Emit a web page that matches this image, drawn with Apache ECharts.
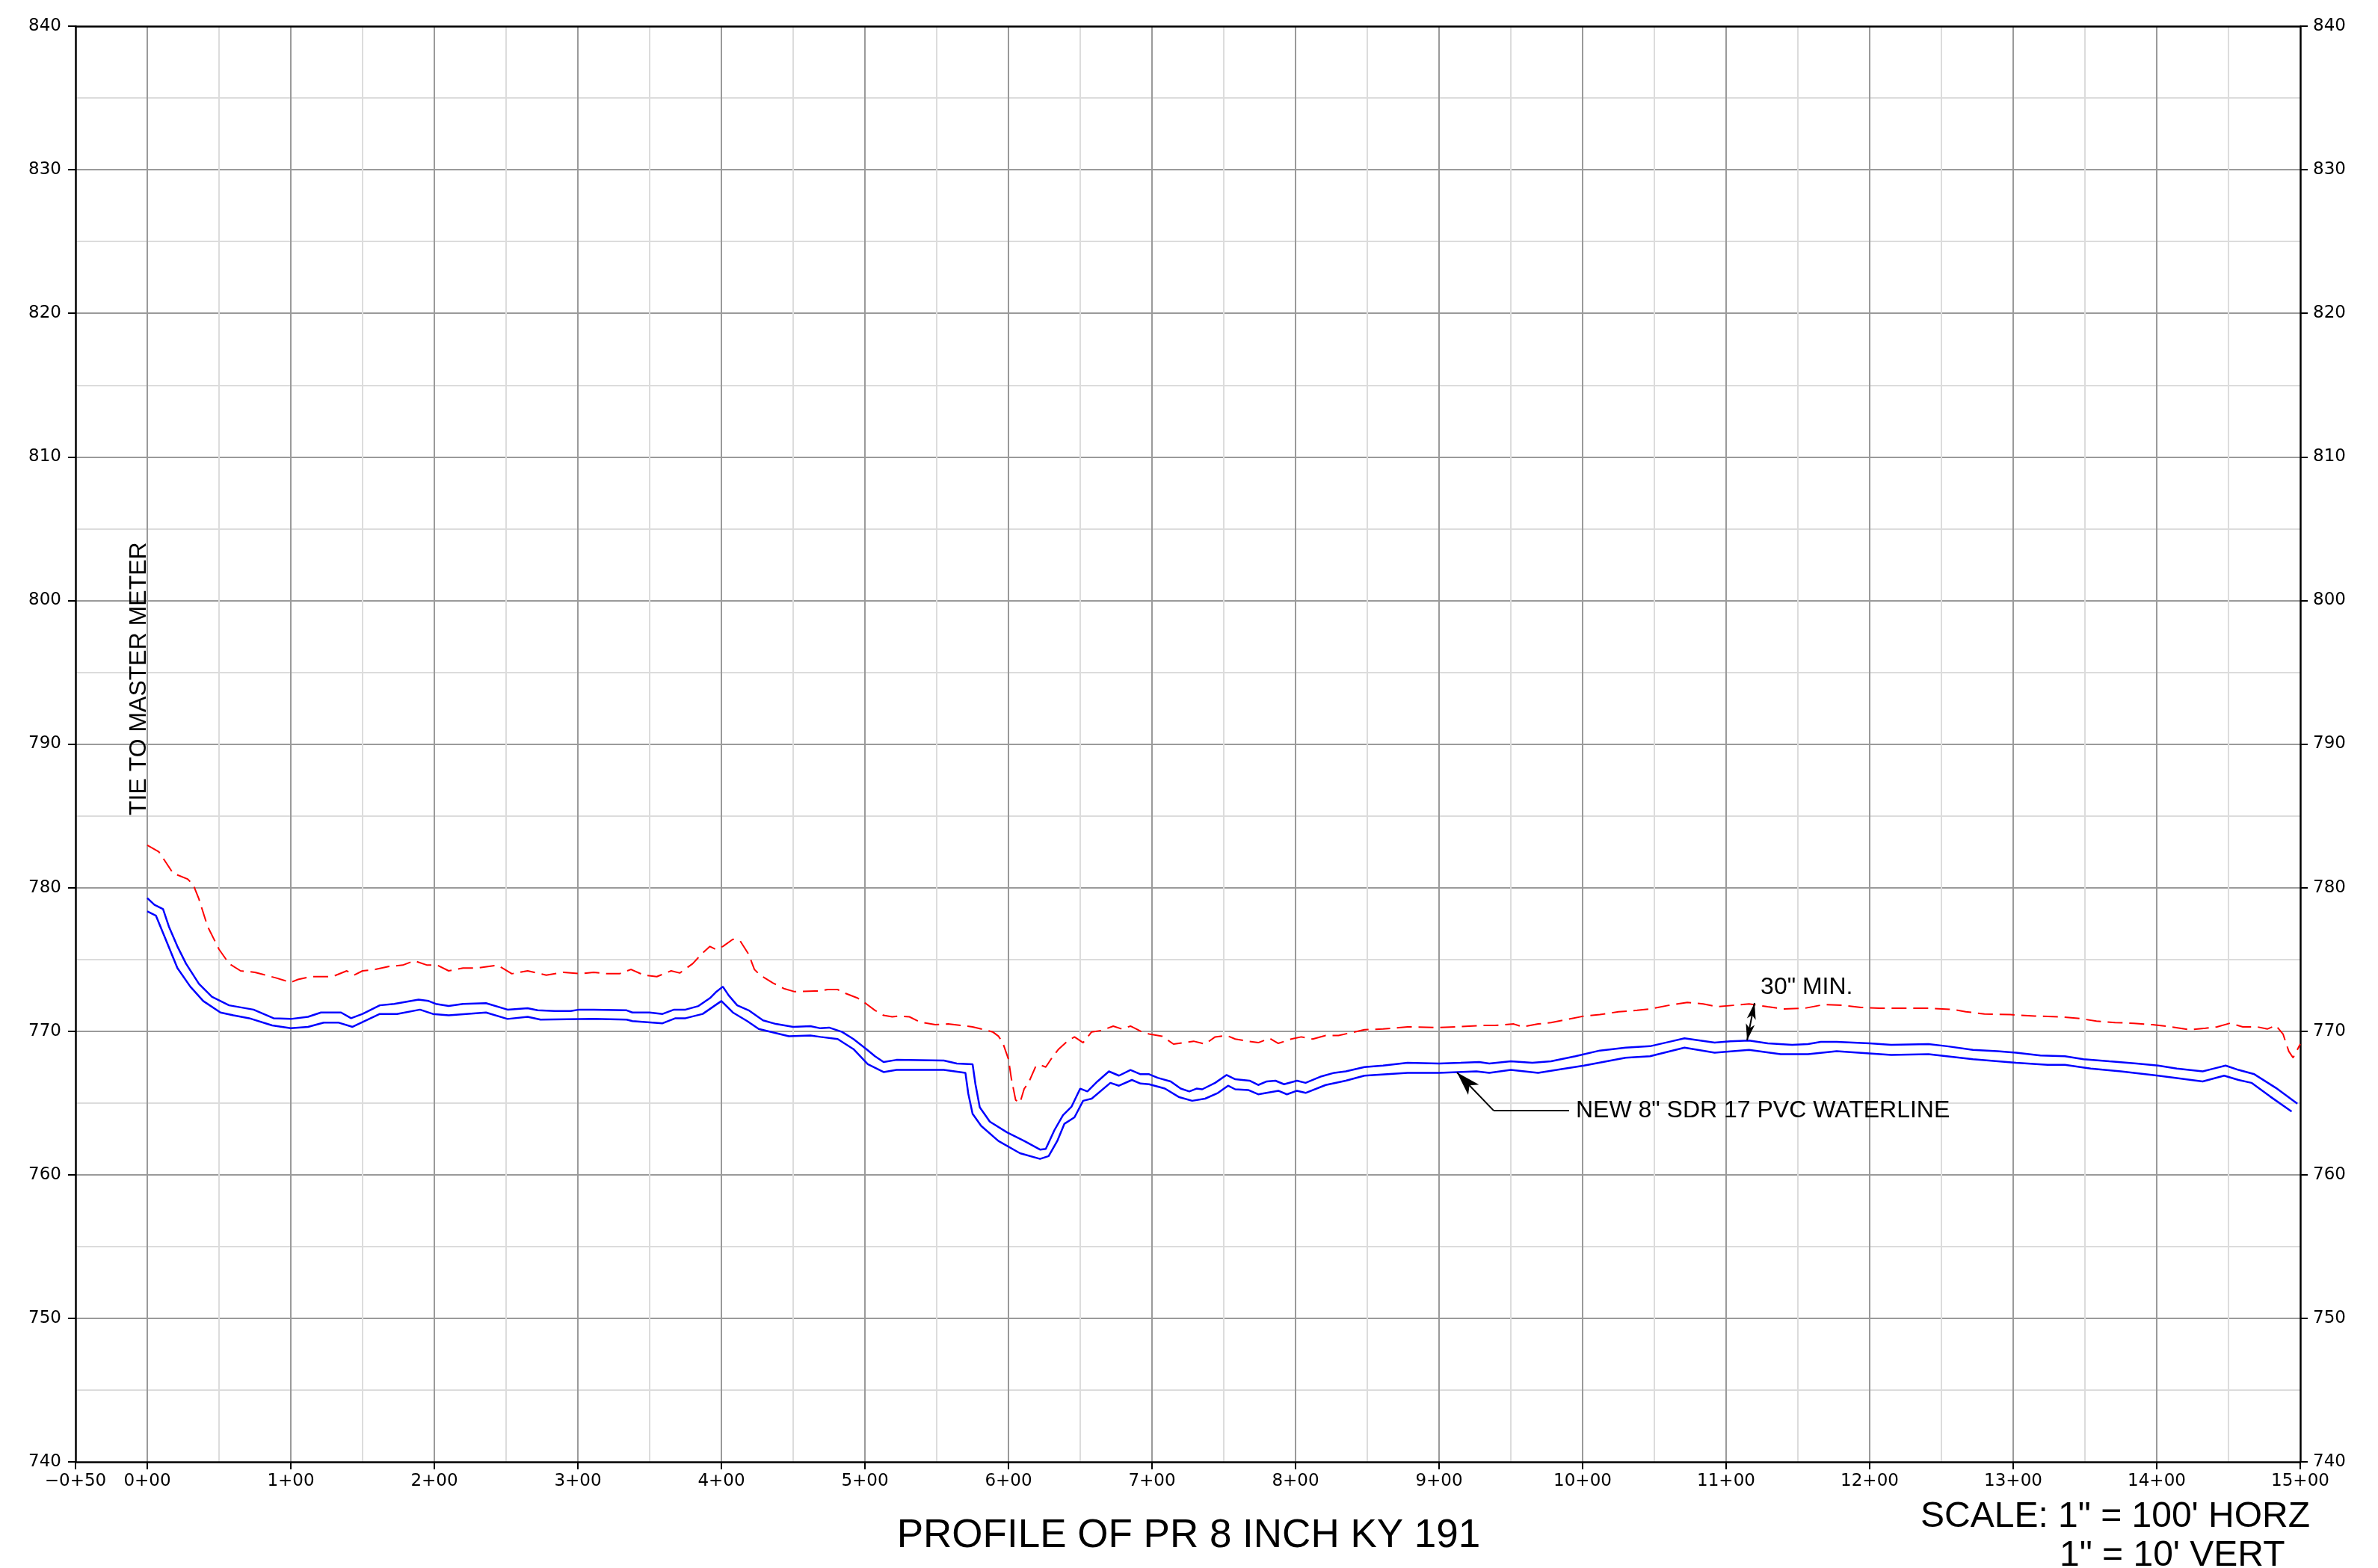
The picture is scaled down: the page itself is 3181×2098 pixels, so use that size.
<!DOCTYPE html>
<html><head><meta charset="utf-8">
<script src="https://cdn.jsdelivr.net/npm/echarts@6/dist/echarts.min.js"></script>
<style>html,body{margin:0;padding:0;background:#fff}#c{width:3181px;height:2098px}</style>
</head><body><div id="c"></div>
<script>
// ---- Existing ground (red dashed) ----
const groundSta = [0,8,18,28,32,36,42,50,57,65,75,90,100,105,114,129,139,144,150,159,168,178,186,195,202,210,220,230,244,254,265,278,290,302,311,320,329,337,346,355,365,371,380,386,392,396,401,408,413,419,423,427,436,444,451,465,469,474,481,486,495,501,507,513,519,523,531,538,549,558,567,575,583,589,593,596,600,602,605,608,611,614,619,622,626,631,635,641,646,652,658,665,673,679,685,692,698,707,715,722,729,737,744,752,758,767,774,782,788,797,804,812,821,830,848,861,878,900,913,930,939,952,958,969,978,986,1001,1012,1025,1038,1047,1060,1073,1084,1094,1105,1116,1129,1140,1155,1168,1181,1194,1207,1224,1241,1259,1267,1280,1298,1315,1332,1345,1358,1371,1384,1397,1410,1423,1434,1442,1451,1460,1470,1477,1483,1488,1492,1495,1500];
const groundElev = [782.95,782.5,781.0,780.6,780.2,779.2,777.3,775.7,774.7,774.2,774.1,773.7,773.4,773.6,773.8,773.8,774.2,773.9,774.2,774.3,774.5,774.6,774.9,774.6,774.6,774.2,774.4,774.4,774.6,774.0,774.2,773.9,774.1,774.0,774.1,774.0,774.0,774.3,773.9,773.8,774.2,774.05,774.7,775.35,775.9,775.7,775.9,776.4,776.3,775.35,774.3,773.9,773.35,772.95,772.75,772.8,772.8,772.9,772.9,772.65,772.3,771.9,771.45,771.1,771.0,771.05,771.0,770.65,770.45,770.5,770.4,770.3,770.1,769.95,769.65,769.2,768.05,766.7,765.2,765.0,766.0,766.4,767.55,767.65,767.5,768.25,768.75,769.3,769.6,769.2,769.95,770.05,770.35,770.15,770.35,770.0,769.8,769.65,769.1,769.2,769.3,769.1,769.6,769.7,769.45,769.3,769.2,769.5,769.15,769.45,769.6,769.45,769.7,769.7,770.1,770.15,770.3,770.25,770.3,770.4,770.4,770.5,770.3,770.5,770.6,770.75,771.05,771.15,771.35,771.45,771.55,771.8,772.0,771.9,771.7,771.8,771.9,771.7,771.55,771.6,771.85,771.8,771.65,771.6,771.6,771.6,771.5,771.35,771.2,771.15,771.05,771.0,770.9,770.7,770.6,770.55,770.45,770.3,770.1,770.2,770.3,770.55,770.3,770.3,770.15,770.4,769.8,768.6,768.15,769.1];

// ---- New waterline, top of pipe (blue) ----
const pipeTopSta = [0,5,11,15,21,27,36,45,57,74,88,100,112,121,135,142,150,162,172,189,196,201,210,220,236,251,265,272,284,295,301,311,334,338,350,359,367,375,384,392,396,401,405,411,419,429,438,450,462,469,475,484,492,501,507,513,522,555,564,575,577,580,587,599,611,622,626,632,638,644,650,655,662,670,677,685,692,698,704,713,720,726,731,735,744,752,758,768,774,780,786,792,801,807,818,827,835,848,861,878,900,915,928,935,950,965,978,995,1012,1030,1047,1060,1071,1082,1092,1103,1116,1129,1146,1157,1166,1177,1200,1215,1241,1254,1272,1289,1302,1319,1336,1349,1367,1386,1401,1414,1432,1440,1448,1457,1468,1483,1498];
const pipeTopElev = [779.27,778.8,778.5,777.3,775.9,774.7,773.3,772.4,771.8,771.5,770.9,770.85,771.0,771.3,771.3,770.9,771.2,771.8,771.9,772.2,772.1,771.9,771.75,771.9,771.95,771.5,771.6,771.45,771.4,771.4,771.5,771.5,771.45,771.3,771.3,771.2,771.5,771.5,771.75,772.3,772.7,773.1,772.5,771.8,771.45,770.75,770.5,770.3,770.35,770.2,770.25,769.95,769.45,768.75,768.25,767.85,768.0,767.95,767.75,767.7,766.3,764.7,763.7,762.95,762.35,761.75,761.8,763.1,764.15,764.75,766.0,765.8,766.5,767.2,766.9,767.3,767.0,767.0,766.75,766.5,766.0,765.8,766.0,765.95,766.4,766.95,766.65,766.55,766.25,766.5,766.55,766.3,766.55,766.4,766.85,767.1,767.2,767.5,767.6,767.8,767.75,767.8,767.85,767.75,767.9,767.8,767.9,768.25,768.65,768.85,768.95,769.25,769.5,769.35,769.2,769.3,769.35,769.15,769.05,769.1,769.25,769.25,769.15,769.05,769.1,768.95,768.7,768.6,768.5,768.3,768.25,768.05,767.9,767.75,767.6,767.4,767.2,767.4,767.6,767.3,767.0,766.05,764.95];

// ---- New waterline, bottom of pipe (blue) ----
const pipeBotSta = [0,6,12,21,30,39,51,60,71,87,100,112,123,133,143,162,174,190,199,210,236,251,265,274,311,334,338,359,368,375,387,400,408,418,426,447,462,469,481,492,502,513,522,555,570,572,575,581,593,608,622,628,634,639,646,652,658,671,677,686,692,698,709,719,728,737,746,753,758,767,774,788,794,801,807,821,835,848,878,900,926,935,950,969,982,1001,1030,1047,1071,1092,1116,1138,1157,1177,1215,1241,1272,1302,1324,1336,1354,1375,1401,1432,1447,1457,1466,1479,1494];
const pipeBotElev = [778.35,778.05,776.6,774.4,773.1,772.1,771.3,771.1,770.9,770.4,770.2,770.3,770.6,770.6,770.3,771.2,771.2,771.5,771.2,771.1,771.3,770.85,771.0,770.8,770.85,770.8,770.7,770.55,770.9,770.9,771.2,772.1,771.3,770.7,770.15,769.65,769.7,769.6,769.45,768.75,767.7,767.15,767.3,767.3,767.1,765.65,764.25,763.4,762.35,761.5,761.1,761.3,762.35,763.55,764.0,765.15,765.3,766.4,766.2,766.6,766.35,766.3,766.0,765.4,765.15,765.3,765.7,766.2,765.95,765.9,765.6,765.85,765.6,765.85,765.7,766.25,766.55,766.9,767.1,767.1,767.2,767.1,767.3,767.1,767.3,767.6,768.15,768.25,768.85,768.5,768.7,768.4,768.4,768.6,768.35,768.4,768.05,767.8,767.65,767.65,767.4,767.2,766.9,766.5,766.9,766.6,766.4,765.45,764.4];

// ---- Tick labels ----
const xTickValues = [-50,0,100,200,300,400,500,600,700,800,900,1000,1100,1200,1300,1400,1500];
const xTickLabels = ['\u22120+50','0+00','1+00','2+00','3+00','4+00','5+00','6+00','7+00','8+00','9+00','10+00','11+00','12+00','13+00','14+00','15+00'];
const yTickValues = [740,750,760,770,780,790,800,810,820,830,840];
const yTickLabels = ['740','750','760','770','780','790','800','810','820','830','840'];

// ---- Annotation anchors (station, elevation) ----
const coverArrow = [[1119.8, 771.96], [1114.6, 769.36]];
const leaderPts = [[912.5, 767.12], [938.0, 764.47], [990.6, 764.47]];

const zip = (a, b) => a.map((v, i) => [v, b[i]]);
const tickFont = {fontFamily: 'DejaVu Sans', fontSize: 23, color: '#000'};
const textFont = 'Liberation Sans, Arial, sans-serif';

const chart = echarts.init(document.getElementById('c'), null, {renderer: 'canvas'});
const xmin = -50, xmax = 1500, ymin = 740, ymax = 840;

chart.setOption({
  animation: false,
  backgroundColor: '#fff',
  grid: {left: 101, top: 35, width: 2976, height: 1921, containLabel: false},
  xAxis: [
    {type: 'value', position: 'bottom', min: xmin, max: xmax, interval: 50,
     axisLine: {show: true, onZero: false, lineStyle: {color: '#000', width: 2.5}},
     axisTick: {show: false}, axisLabel: {show: false},
     splitLine: {show: true, showMinLine: false, showMaxLine: false, lineStyle: {color: ['#9a9a9a', '#dcdcdc'], width: 2}}},
    {type: 'value', position: 'bottom', min: xmin, max: xmax,
     axisLine: {show: false, onZero: false},
     axisTick: {show: true, customValues: xTickValues, length: 10, inside: false, lineStyle: {color: '#000', width: 2}},
     axisLabel: Object.assign({show: true, customValues: xTickValues, margin: 15,
       formatter: v => { const i = xTickValues.indexOf(v); return i >= 0 ? xTickLabels[i] : ''; }}, tickFont),
     splitLine: {show: false}},
    {type: 'value', position: 'top', min: xmin, max: xmax,
     axisLine: {show: true, onZero: false, lineStyle: {color: '#000', width: 2.5}},
     axisTick: {show: false}, axisLabel: {show: false}, splitLine: {show: false}}
  ],
  yAxis: [
    {type: 'value', position: 'left', min: ymin, max: ymax, interval: 5,
     axisLine: {show: true, onZero: false, lineStyle: {color: '#000', width: 2.5}},
     axisTick: {show: false}, axisLabel: {show: false},
     splitLine: {show: true, showMinLine: false, showMaxLine: false, lineStyle: {color: ['#dcdcdc', '#9a9a9a'], width: 2}}},
    {type: 'value', position: 'left', min: ymin, max: ymax,
     axisLine: {show: false, onZero: false},
     axisTick: {show: true, customValues: yTickValues, length: 10, lineStyle: {color: '#000', width: 2}},
     axisLabel: Object.assign({show: true, customValues: yTickValues, margin: 19,
       formatter: v => { const i = yTickValues.indexOf(v); return i >= 0 ? yTickLabels[i] : ''; }}, tickFont),
     splitLine: {show: false}},
    {type: 'value', position: 'right', min: ymin, max: ymax,
     axisLine: {show: true, onZero: false, lineStyle: {color: '#000', width: 2.5}},
     axisTick: {show: true, customValues: yTickValues, length: 10, lineStyle: {color: '#000', width: 2}},
     axisLabel: Object.assign({show: true, customValues: yTickValues, margin: 17,
       formatter: v => { const i = yTickValues.indexOf(v); return i >= 0 ? yTickLabels[i] : ''; }}, tickFont),
     splitLine: {show: false}}
  ],
  series: [
    {name: 'Existing Ground', type: 'line', xAxisIndex: 0, yAxisIndex: 0,
     data: zip(groundSta, groundElev), showSymbol: false, symbol: 'none',
     lineStyle: {color: '#ff0000', width: 2, type: [20, 9]}, z: 3},
    {name: 'Pipe Top', type: 'line', xAxisIndex: 0, yAxisIndex: 0,
     data: zip(pipeTopSta, pipeTopElev), showSymbol: false, symbol: 'none',
     lineStyle: {color: '#0000ff', width: 2.5}, z: 3,
     markLine: {silent: true, animation: false, label: {show: false},
       lineStyle: {color: '#000', width: 2, type: 'solid'},
       data: [
         [{coord: coverArrow[0], symbol: 'arrow', symbolSize: [9, 22]},
          {coord: coverArrow[1], symbol: 'arrow', symbolSize: [9, 22]}],
         [{coord: leaderPts[0], symbol: 'arrow', symbolSize: [15, 32]},
          {coord: leaderPts[1], symbol: 'none'}],
         [{coord: leaderPts[1], symbol: 'none'},
          {coord: leaderPts[2], symbol: 'none'}]
       ]}},
    {name: 'Pipe Bottom', type: 'line', xAxisIndex: 0, yAxisIndex: 0,
     data: zip(pipeBotSta, pipeBotElev), showSymbol: false, symbol: 'none',
     lineStyle: {color: '#0000ff', width: 2.5}, z: 3}
  ]
});

const px = p => chart.convertToPixel({xAxisIndex: 0, yAxisIndex: 0}, p);
const minTxt = px([1124, 773.03]);
const newTxt = px([995.3, 764.47]);
const tieTxt = px([-5.7, 785.03]);

chart.setOption({
  graphic: [
    {type: 'text', x: 1590, y: 2055, style: {text: 'PROFILE OF PR 8 INCH KY 191', font: '53px ' + textFont, fill: '#000', align: 'center', verticalAlign: 'middle'}},
    {type: 'text', x: 2569, y: 2030, style: {text: 'SCALE: 1" = 100\' HORZ', font: '48px ' + textFont, fill: '#000', align: 'left', verticalAlign: 'middle'}},
    {type: 'text', x: 2755, y: 2082, style: {text: '1" = 10\' VERT', font: '48px ' + textFont, fill: '#000', align: 'left', verticalAlign: 'middle'}},
    {type: 'text', x: minTxt[0], y: minTxt[1], style: {text: '30" MIN.', font: '32px ' + textFont, fill: '#000', align: 'left', verticalAlign: 'middle'}},
    {type: 'text', x: newTxt[0], y: newTxt[1], style: {text: 'NEW 8" SDR 17 PVC WATERLINE', font: '32px ' + textFont, fill: '#000', align: 'left', verticalAlign: 'middle'}},
    {type: 'text', x: tieTxt[0], y: tieTxt[1], rotation: Math.PI / 2, style: {text: 'TIE TO MASTER METER', font: '32px ' + textFont, fill: '#000', align: 'left', verticalAlign: 'middle'}}
  ]
});
</script>
</body></html>
